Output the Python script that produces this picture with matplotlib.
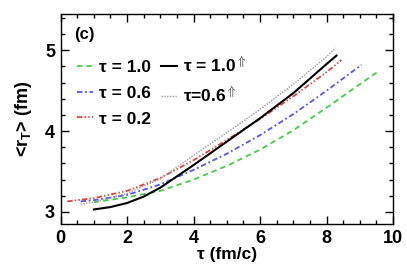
import matplotlib
matplotlib.use("Agg")
import matplotlib.pyplot as plt
from matplotlib.ticker import MultipleLocator

plt.rcParams['font.family'] = ['Liberation Sans', 'DejaVu Sans']
plt.rcParams['font.weight'] = 'bold'
plt.rcParams['mathtext.fontset'] = 'custom'
plt.rcParams['mathtext.rm'] = 'Liberation Sans:bold'
plt.rcParams['mathtext.bf'] = 'Liberation Sans:bold'
plt.rcParams['mathtext.it'] = 'Liberation Sans:bold'

# tau0 = 1.0 (green dashed)
t_g = [1.0, 2, 3, 4, 5, 6, 7, 8, 9, 9.6]
r_g = [3.12, 3.18, 3.26, 3.40, 3.57, 3.77, 4.01, 4.29, 4.58, 4.75]
# tau0 = 0.6 (blue dash-dot)
t_b = [0.6, 1, 2, 3, 4, 5, 6, 7, 8, 9.05]
r_b = [3.13, 3.145, 3.21, 3.34, 3.52, 3.72, 3.95, 4.21, 4.50, 4.82]
# tau0 = 0.2 (red dash-dot-dot)
t_r = [0.2, 1, 2, 3, 4, 5, 6, 7, 8, 8.45]
r_r = [3.13, 3.17, 3.26, 3.42, 3.64, 3.89, 4.15, 4.43, 4.73, 4.88]
# tau0 = 1.0 arrow (black solid)
t_k = [1.0, 1.5, 2, 2.5, 3, 4, 5, 6, 7, 8, 8.3]
r_k = [3.03, 3.06, 3.11, 3.19, 3.30, 3.58, 3.87, 4.16, 4.47, 4.83, 4.935]
# tau0 = 0.6 arrow (grey dotted)
t_y = [0.6, 1, 2, 3, 4, 5, 6, 7, 8, 8.27]
r_y = [3.095, 3.12, 3.23, 3.41, 3.70, 3.98, 4.27, 4.58, 4.92, 5.03]

labels = ['τ = 1.0', 'τ = 0.6', 'τ = 0.2', r'τ = 1.0$^{\Uparrow}$', r'τ=0.6$^{\Uparrow}$']

fig = plt.figure(figsize=(4.07, 2.64), dpi=100)
ax = fig.add_axes([0.149, 0.1515, 0.8166, 0.7955])

ax.plot(t_g, r_g, color='#44cc44', lw=1.3, ls=(0, (3, 2.2)), label=labels[0])
ax.plot(t_b, r_b, color='#5555ee', lw=1.3, ls=(0, (3, 1.5, 1, 1.5)), label=labels[1])
ax.plot(t_r, r_r, color='#dd4444', lw=1.3, ls=(0, (3, 1.2, 0.8, 1.2, 0.8, 1.2)), label=labels[2])
ax.plot(t_k, r_k, color='black', lw=1.5, ls='-', label=labels[3])
ax.plot(t_y, r_y, color='#999999', lw=1.0, ls=(0, (1, 1)), label=labels[4])

ax.set_xlim(0, 10)
ax.set_ylim(2.85, 5.45)
ax.xaxis.set_major_locator(MultipleLocator(2))
ax.xaxis.set_minor_locator(MultipleLocator(0.5))
ax.yaxis.set_major_locator(MultipleLocator(1))
ax.yaxis.set_minor_locator(MultipleLocator(0.2))
ax.tick_params(which='both', direction='in', top=True, right=True, labelsize=13, width=1.0)
ax.tick_params(which='major', length=6, pad=4)
ax.tick_params(which='minor', length=3)
for s in ax.spines.values():
    s.set_linewidth(1.0)
for lab in ax.get_xticklabels() + ax.get_yticklabels():
    lab.set_fontweight('bold')

ax.set_xlabel('τ (fm/c)', fontsize=12.5, fontweight='bold', labelpad=0)
ax.set_ylabel(r'<r$_{\mathrm{T}}$> (fm)', fontsize=13, fontweight='bold', labelpad=8)

ax.text(0.04, 0.90, '(c)', transform=ax.transAxes, fontsize=12, fontweight='bold',
        va='center', ha='left')

leg = ax.legend(ncol=2, loc='upper left', bbox_to_anchor=(0.05, 0.80), frameon=False,
                handlelength=0.9, handletextpad=0.35, columnspacing=0.6,
                labelspacing=0.6, borderpad=0, borderaxespad=0,
                prop={'weight': 'bold', 'size': 12.5})

fig.savefig('out.png', dpi=100)
